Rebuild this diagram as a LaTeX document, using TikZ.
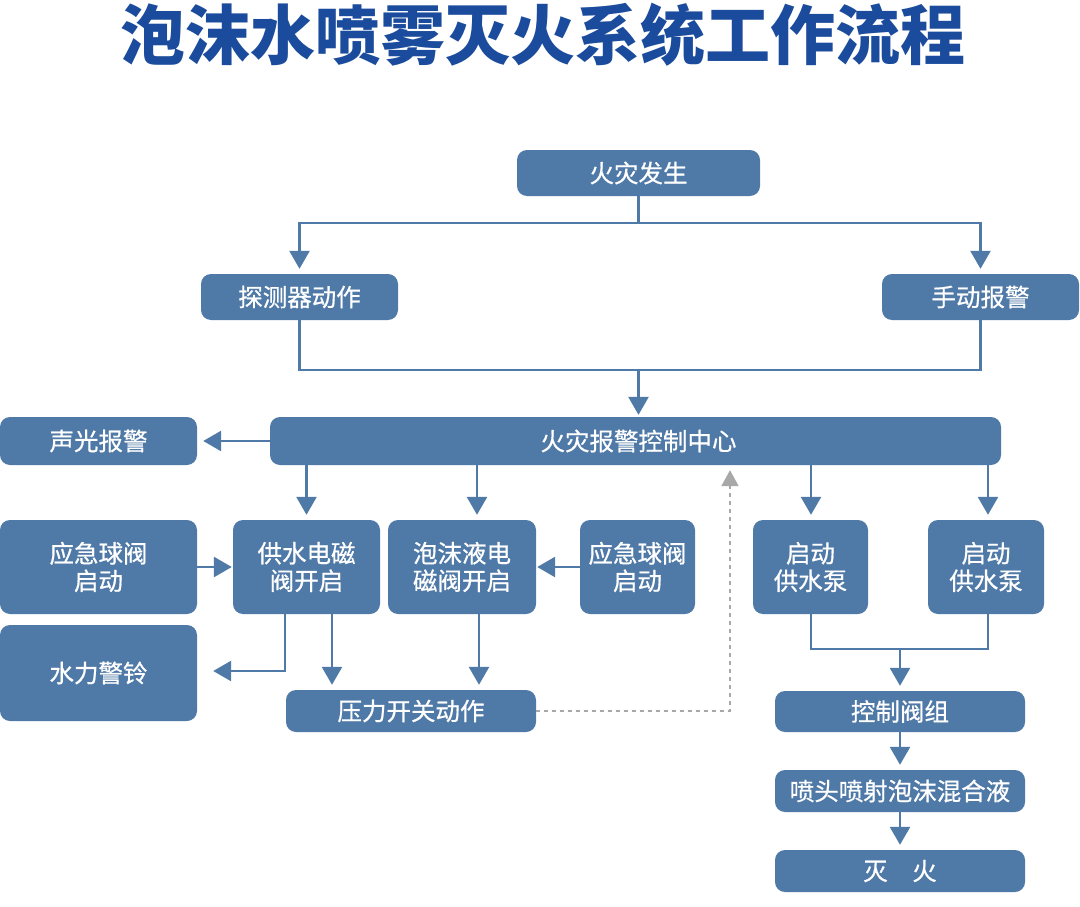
\documentclass[tikz,border=0pt]{standalone}
\usepackage{fontspec}
\setmainfont{Noto Sans CJK SC}
\newfontfamily\boxfont{Noto Sans CJK SC}[FakeBold=0.7]
\usetikzlibrary{arrows.meta}
\definecolor{boxc}{HTML}{4F79A6}
\definecolor{titlec}{HTML}{1B4B9C}
\definecolor{dashc}{HTML}{A8A8A8}
\tikzset{
  box/.style={fill=boxc, rounded corners=10pt, text=white, font=\boxfont\fontsize{24.5}{27.5}\selectfont, align=center, inner sep=0pt, anchor=center},
  ln/.style={draw=boxc, line width=2.6pt},
  arr/.style={ln, -{Triangle[width=20pt,length=18pt]}, shorten >=5pt},
  dsh/.style={draw=dashc, line width=2pt, dash pattern=on 4pt off 4pt, -{Triangle[width=17pt,length=16pt]}, shorten >=5pt}
}
\begin{document}
\begin{tikzpicture}[x=1pt,y=-1pt]
\useasboundingbox (0,0) rectangle (1080,907);
\fill[white] (0,0) rectangle (1080,907);
\node[text=titlec, font=\fontsize{65}{70}\selectfont\bfseries, xscale=1.0, anchor=center] (title) at (543,35) {泡沫水喷雾灭火系统工作流程};

\node[box, minimum width=243pt, minimum height=46pt] (fire) at (638.5,173) {火灾发生};
\node[box, minimum width=197pt, minimum height=46pt] (det) at (299.5,297) {探测器动作};
\node[box, minimum width=197pt, minimum height=46pt] (man) at (980.5,297) {手动报警};
\node[box, minimum width=731pt, minimum height=48pt] (cc) at (635.5,441) {\hspace*{6pt}火灾报警控制中心};
\node[box, minimum width=197pt, minimum height=48pt] (sg) at (98.5,441) {声光报警};
\node[box, minimum width=197pt, minimum height=94pt] (eL) at (98.5,567) {应急球阀\\启动};
\node[box, minimum width=147pt, minimum height=94pt] (gs) at (306.5,567) {供水电磁\\阀开启};
\node[box, minimum width=148pt, minimum height=94pt] (pm) at (462,567) {泡沫液电\\磁阀开启};
\node[box, minimum width=115pt, minimum height=94pt] (eR) at (637.5,567) {应急球阀\\启动};
\node[box, minimum width=115pt, minimum height=94pt] (p1) at (810.5,567) {启动\\供水泵};
\node[box, minimum width=116pt, minimum height=94pt] (p2) at (986,567) {启动\\供水泵};
\node[box, minimum width=197pt, minimum height=96pt] (bell) at (98.5,673) {水力警铃};
\node[box, minimum width=250pt, minimum height=42pt] (press) at (411,711) {压力开关动作};
\node[box, minimum width=250pt, minimum height=41pt] (ctrl) at (900,711.5) {控制阀组};
\node[box, minimum width=250pt, minimum height=42pt] (spray) at (900,791) {喷头喷射泡沫混合液};
\node[box, minimum width=250pt, minimum height=42pt] (out) at (900,871) {灭　火};

% top split
\draw[ln] (fire.south) -- (fire.south |- 0,223) coordinate (f1);
\draw[arr] (f1) -| (det.north);
\draw[arr] (f1) -| (man.north);
% merge
\coordinate (c2) at (fire.south |- 0,370);
\draw[ln] (det.south) |- (c2) -| (man.south);
\draw[arr, shorten >=2pt] (c2) -- (c2 |- cc.north);
% control center outputs
\draw[arr, shorten >=6pt] (cc.west) -- (sg.east);
\draw[arr] (gs.north |- cc.south) -- (gs.north);
\draw[arr] ([xshift=15pt]pm.north |- cc.south) -- ([xshift=15pt]pm.north);
\draw[arr] ([xshift=0.5pt]p1.north |- cc.south) -- ([xshift=0.5pt]p1.north);
\draw[arr] ([xshift=2pt]p2.north |- cc.south) -- ([xshift=2pt]p2.north);
% emergency valves
\draw[arr, shorten >=1pt] (eL.east) -- (gs.west);
\draw[arr, shorten >=1pt] (eR.west) -- (pm.east);
% valves to bell and pressure switch
\draw[ln, -{Triangle[width=20pt,length=18pt]}] ([xshift=-21.5pt]gs.south) |- ([xshift=16pt,yshift=2pt]bell.east);
\draw[arr] ([xshift=25.5pt]gs.south) -- ([xshift=25.5pt]gs.south |- press.north);
\draw[arr] ([xshift=17pt]pm.south) -- ([xshift=17pt]pm.south |- press.north);
% dashed feedback
\draw[dsh] (press.east) -| ([xshift=94.5pt]cc.south);
% pumps merge
\coordinate (c3) at (ctrl.north |- 0,649);
\draw[ln] ([xshift=0.5pt]p1.south) |- (c3) -| ([xshift=2pt]p2.south);
\draw[arr] (c3) -- (ctrl.north);
\draw[arr] (ctrl.south) -- (spray.north);
\draw[arr] (spray.south) -- (out.north);
\end{tikzpicture}
\end{document}
